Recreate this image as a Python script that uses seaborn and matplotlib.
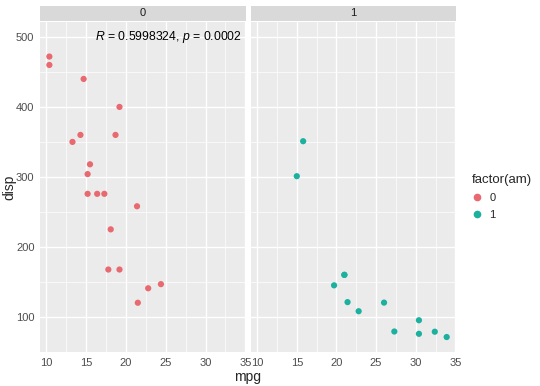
import numpy as np
import pandas as pd
import matplotlib
matplotlib.use("Agg")
import matplotlib.pyplot as plt
import seaborn as sns
from matplotlib.lines import Line2D

# mtcars: mpg vs disp, split by transmission (am)
mpg_am0 = [21.4, 18.7, 18.1, 14.3, 24.4, 22.8, 19.2, 17.8, 16.4, 17.3,
           15.2, 10.4, 10.4, 14.7, 21.5, 15.5, 15.2, 13.3, 19.2]
disp_am0 = [258, 360, 225, 360, 146.7, 140.8, 167.6, 167.6, 275.8, 275.8,
            275.8, 472, 460, 440, 120.1, 318, 304, 350, 400]
mpg_am1 = [21.0, 21.0, 22.8, 32.4, 30.4, 33.9, 27.3, 26.0, 30.4, 15.8,
           19.7, 15.0, 21.4]
disp_am1 = [160, 160, 108, 78.7, 75.7, 71.1, 79, 120.3, 95.1, 351,
            145, 301, 121]
am_levels = ["0", "1"]
palette = {"0": "#E8696F", "1": "#1CB09F"}
annotation = r"$\mathit{R}$ = 0.5998324, $\mathit{p}$ = 0.0002"

df = pd.concat([
    pd.DataFrame({"mpg": mpg_am0, "disp": disp_am0, "am": "0"}),
    pd.DataFrame({"mpg": mpg_am1, "disp": disp_am1, "am": "1"}),
])

sns.set_theme(style="darkgrid")
plt.rcParams["font.family"] = ["Liberation Sans", "DejaVu Sans"]
plt.rcParams["mathtext.fontset"] = "custom"
plt.rcParams["mathtext.it"] = "Liberation Sans:italic"
plt.rcParams["mathtext.rm"] = "Liberation Sans"

fig = plt.figure(figsize=(5.4, 3.86), dpi=100)
W, H = 540, 386
panels = [(40, 246), (251, 456)]
top_px, bot_px = 22, 352
axes = []
for i, (x0, x1) in enumerate(panels):
    ax = fig.add_axes([x0 / W, 1 - bot_px / H, (x1 - x0) / W, (bot_px - top_px) / H])
    sub = df[df["am"] == am_levels[i]]
    sns.scatterplot(data=sub, x="mpg", y="disp", hue="am", palette=palette,
                    s=20, edgecolor="none", legend=False, ax=ax)
    ax.set_facecolor("#EBEBEB")
    ax.set_xlim(9.225, 35.075)
    ax.set_ylim(49.7, 521.4)
    ax.set_xticks([10, 15, 20, 25, 30, 35])
    ax.set_yticks([100, 200, 300, 400, 500])
    ax.set_xticks(np.arange(12.5, 35, 5), minor=True)
    ax.set_yticks(np.arange(150, 500, 100), minor=True)
    ax.grid(which="major", color="white", lw=1.0)
    ax.grid(which="minor", color="white", lw=0.5)
    for s in ax.spines.values():
        s.set_visible(False)
    ax.tick_params(axis="both", which="major", length=2.5, width=0.6,
                   color="#333333", labelsize=8, labelcolor="#4D4D4D", pad=1.5)
    ax.tick_params(axis="both", which="minor", length=0)
    ax.set_xlabel("")
    ax.set_ylabel("")
    if i == 1:
        ax.tick_params(axis="y", left=False, labelleft=False)
    # facet strip
    strip = fig.add_axes([x0 / W, 1 - (top_px - 1) / H, (x1 - x0) / W, 15 / H])
    strip.set_facecolor("#D9D9D9")
    strip.set_xticks([])
    strip.set_yticks([])
    for s in strip.spines.values():
        s.set_visible(False)
    strip.text(0.5, 0.5, am_levels[i], ha="center", va="center",
               fontsize=8, color="#1A1A1A", transform=strip.transAxes)
    axes.append(ax)

axes[0].text(25.3, 500, annotation, ha="center", va="center",
             fontsize=8.8, color="black")

fig.text((40 + 456) / 2 / W, 1 - 377 / H, "mpg", ha="center", va="center", fontsize=10)
fig.text(9 / W, 1 - 187 / H, "disp", ha="center", va="center",
         rotation=90, fontsize=10)

handles = [Line2D([], [], marker="o", ls="", color=palette[k], markersize=4.5)
           for k in am_levels]
leg = fig.legend(handles, am_levels, title="factor(am)", loc="center left",
                 bbox_to_anchor=(464 / W, 1 - 197 / H), frameon=False,
                 fontsize=8, title_fontsize=9.5, handlelength=1.0,
                 handletextpad=0.6, labelspacing=0.6, borderpad=0.2)
leg._legend_box.align = "left"

fig.savefig("out.png", dpi=100)
